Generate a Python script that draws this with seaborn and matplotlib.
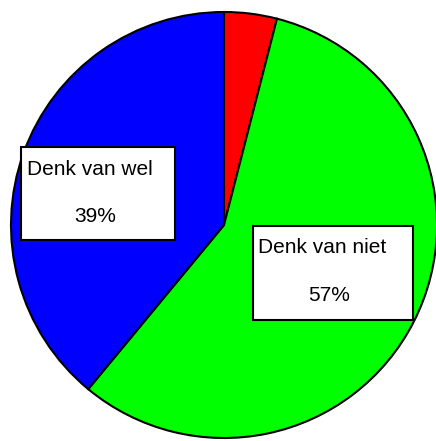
import matplotlib
matplotlib.use("Agg")
import matplotlib.pyplot as plt
from matplotlib.patches import Rectangle
import seaborn as sns

# slices, clockwise from 12 o'clock
names = ["", "Denk van niet", "Denk van wel"]
shares = [4, 57, 39]
colors = ["#ff0000", "#00ff00", "#0000ff"]

# label boxes (left, bottom, width, height) in pie units, only for labelled slices
boxes = {1: (0.136, -0.446, 0.751, 0.441), 2: (-0.953, -0.070, 0.723, 0.437)}
name_pos = {1: (0.160, -0.131), 2: (-0.923, 0.235)}
pct_pos = {1: (0.495, -0.357), 2: (-0.604, 0.015)}

sns.set_style("white")
plt.rcParams['font.family'] = ['Liberation Sans', 'DejaVu Sans']
plt.rcParams['text.color'] = 'black'

fig = plt.figure(figsize=(4.36, 4.41), dpi=100)
ax = fig.add_axes([11 / 436, 3 / 441, 426 / 436, 426 / 441])
ax.pie(shares, colors=colors, startangle=90, counterclock=False, radius=1,
       wedgeprops=dict(edgecolor="black", linewidth=1.5))
ax.set_xlim(-1, 1)
ax.set_ylim(-1, 1)
ax.axis("off")

for i, (x0, y0, w, h) in boxes.items():
    ax.add_patch(Rectangle((x0, y0), w, h, facecolor="white", edgecolor="black",
                           linewidth=1.5, zorder=5, clip_on=False))
    nx, ny = name_pos[i]
    ax.text(nx, ny, names[i], fontsize=15, color="black", ha="left", va="baseline", zorder=6)
    px, py = pct_pos[i]
    ax.text(px, py, f"{shares[i]}%", fontsize=15, color="black", ha="center", va="baseline", zorder=6)

fig.savefig("out.png", dpi=100)
